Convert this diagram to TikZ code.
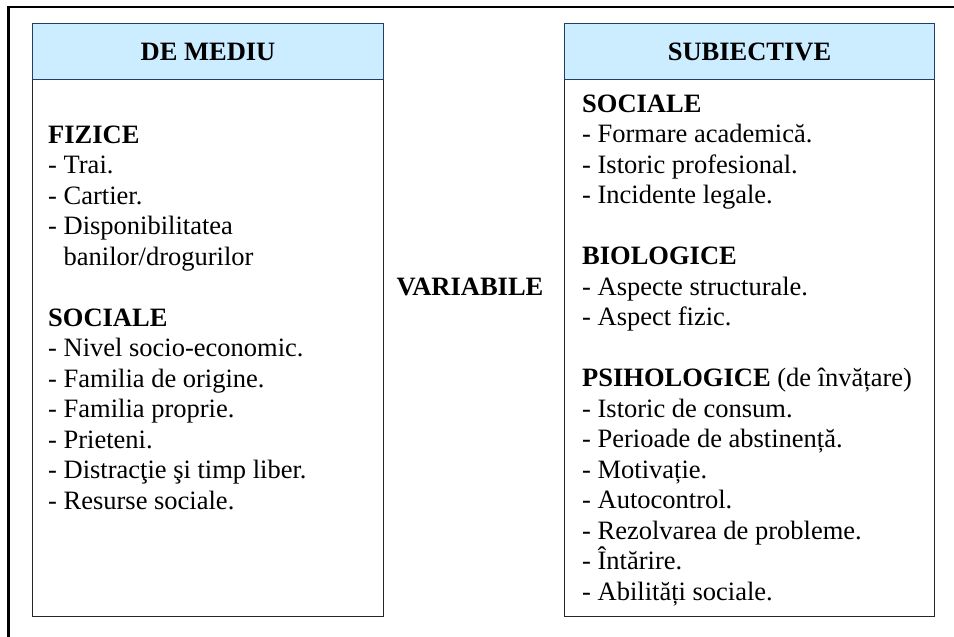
\documentclass[tikz,border=0pt]{standalone}
\usepackage{fontspec}
\setmainfont{Liberation Serif}
\definecolor{headblue}{HTML}{CCECFF}
\definecolor{headline}{HTML}{1F3F66}

\tikzset{   bodybox/.style={draw=black!85,line width=1.4pt,anchor=north west,inner sep=0pt,minimum width=351pt,minimum height=593pt},
            headbox/.style={draw=headline,fill=headblue,line width=1pt,anchor=north west,inner sep=0pt,minimum height=56pt,font=\fontsize{26.5}{30.5}\selectfont\bfseries},
            itemtext/.style={anchor=north west,align=left,inner sep=0pt,font=\fontsize{26.5}{30.5}\selectfont},
}

\begin{document}
\begin{tikzpicture}[x=1pt,y=-1pt]
    \useasboundingbox (0,0) rectangle (954,637);
    \draw[line width=2.6pt] (8.5,650) -- (8.5,7) -- (970,7); % outer frame

    \node[bodybox] (mediu) at (32,23) {};   % boxes
    \node[bodybox,minimum width=370pt] (subiectiv) at (564,23) {};
    \node[headbox,minimum width=351pt] (mediuhead) at (32,23) {DE MEDIU};
    \node[headbox,minimum width=370pt] (subiectivhead) at (564,23) {SUBIECTIVE};

    \node[font=\fontsize{26.5}{30.5}\selectfont\bfseries] (variabile) at (470,287) {VARIABILE};

    \node[itemtext] (mediutext) at (48,125.5) {\textbf{FIZICE}\\
        - Trai.\\
        - Cartier.\\
        - Disponibilitatea\\
        \hphantom{- }banilor/drogurilor\\[30.5pt]
        \textbf{SOCIALE}\\
        - Nivel socio-economic.\\
        - Familia de origine.\\
        - Familia proprie.\\
        - Prieteni.\\
        - Distracţie şi timp liber.\\
        - Resurse sociale.};

    \node[itemtext] (subiectivtext) at (582,94.5) {\textbf{SOCIALE}\\
        - Formare academică.\\
        - Istoric profesional.\\
        - Incidente legale.\\[30.5pt]
        \textbf{BIOLOGICE}\\
        - Aspecte structurale.\\
        - Aspect fizic.\\[30.5pt]
        \textbf{PSIHOLOGICE} (de învățare)\\
        - Istoric de consum.\\
        - Perioade de abstinență.\\
        - Motivație.\\
        - Autocontrol.\\
        - Rezolvarea de probleme.\\
        - Întărire.\\
        - Abilități sociale.};
\end{tikzpicture}
\end{document}
